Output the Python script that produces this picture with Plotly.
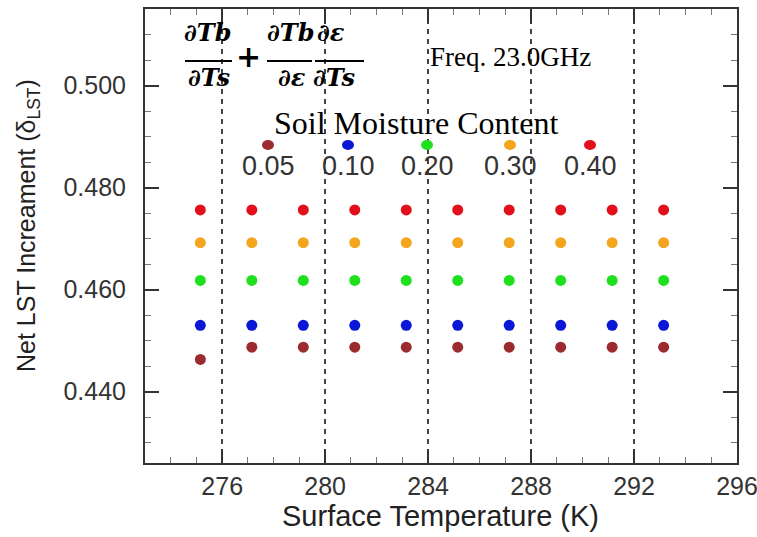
import plotly.graph_objects as go

# ---------------- data ----------------
temps = [275.15, 277.15, 279.15, 281.15, 283.15, 285.15, 287.15, 289.15, 291.15, 293.15]
sm_labels = ["0.05", "0.10", "0.20", "0.30", "0.40"]
sm_005 = [0.4463, 0.4487, 0.4487, 0.4487, 0.4487, 0.4487, 0.4487, 0.4487, 0.4487, 0.4487]
sm_010 = [0.4530, 0.4530, 0.4530, 0.4530, 0.4530, 0.4530, 0.4530, 0.4530, 0.4530, 0.4530]
sm_020 = [0.4618, 0.4618, 0.4618, 0.4618, 0.4618, 0.4618, 0.4618, 0.4618, 0.4618, 0.4618]
sm_030 = [0.4692, 0.4692, 0.4692, 0.4692, 0.4692, 0.4692, 0.4692, 0.4692, 0.4692, 0.4692]
sm_040 = [0.4756, 0.4756, 0.4756, 0.4756, 0.4756, 0.4756, 0.4756, 0.4756, 0.4756, 0.4756]
series = [sm_005, sm_010, sm_020, sm_030, sm_040]
colors = ["#9b2b2e", "#0a17d6", "#1fe01f", "#f2a51d", "#e3101b"]

# ---------------- layout geometry (pixels) ----------------
W, H = 757, 537
L, R, T, B = 145, 737, 9, 463


def px(x):
    return (x - L) / (R - L)


def py(y):
    return (B - y) / (B - T)


fig = go.Figure()
for vals, col, lab in zip(series, colors, sm_labels):
    fig.add_trace(go.Scatter(
        x=temps, y=vals, mode="markers", name=lab, showlegend=False,
        marker=dict(color=col, size=11, line=dict(width=0)),
    ))

axis_col = "#333333"
tick_font = dict(family="Liberation Sans, Arial", size=25, color="#333333")

fig.update_xaxes(
    range=[273, 296], tick0=276, dtick=4,
    showline=True, linewidth=2, linecolor=axis_col, mirror="allticks",
    ticks="inside", ticklen=14, tickwidth=2, tickcolor=axis_col,
    showgrid=True, gridcolor="#444444", gridwidth=2, griddash="5px,5px",
    zeroline=False, tickfont=tick_font, ticklabelstandoff=0, ticklabeloverflow="allow",
    minor=dict(dtick=1, ticks="inside", ticklen=6, tickwidth=1, tickcolor="#777777", showgrid=False),
)
fig.update_yaxes(
    range=[0.426, 0.515], tick0=0.44, dtick=0.02, tickformat=".3f",
    showline=True, linewidth=2, linecolor=axis_col, mirror="allticks",
    ticks="inside", ticklen=14, tickwidth=2, tickcolor=axis_col,
    showgrid=False, zeroline=False, tickfont=tick_font, ticklabelstandoff=12,
    ticklabeloverflow="allow",
    minor=dict(dtick=0.005, ticks="inside", ticklen=6, tickwidth=1, tickcolor="#777777", showgrid=False),
)

ann = []
shapes = []


def text(x, y, s, size, family, color="#000000", angle=0, xanchor="center", yanchor="middle"):
    ann.append(dict(x=px(x), y=py(y), xref="paper", yref="paper", text=s, showarrow=False,
                    font=dict(size=size, family=family, color=color), textangle=angle,
                    xanchor=xanchor, yanchor=yanchor))


# axis titles
text(440, 516, "Surface Temperature (K)", 29, "Liberation Sans, Arial", "#222222")
text(28, 226, "Net LST Increament (δ<sub>LST</sub>)", 25, "Liberation Sans, Arial", "#222222", angle=-90)

# formula
mf = "DejaVu Serif"
text(207, 33, "<b><i>∂Tb</i></b>", 24, mf)
text(209, 77, "<b><i>∂Ts</i></b>", 24, mf)
text(248, 56, "<b>+</b>", 30, mf)
text(290, 33, "<b><i>∂Tb</i></b>", 24, mf)
text(331, 33, "<b><i>∂ε</i></b>", 24, mf)
text(292, 77, "<b><i>∂ε</i></b>", 24, mf)
text(334, 77, "<b><i>∂Ts</i></b>", 24, mf)
for x0, x1 in [(185, 232), (267, 312), (315, 364)]:
    shapes.append(dict(type="line", xref="paper", yref="paper", x0=px(x0), x1=px(x1),
                       y0=py(61), y1=py(61), line=dict(color="#000000", width=2)))

text(510, 57, "Freq. 23.0GHz", 27, "Liberation Serif, Times New Roman")
text(416, 123, "Soil Moisture Content", 32, "Liberation Serif, Times New Roman")

# custom legend row
leg_x = [268, 348, 427, 510, 590]
for lx, col, lab in zip(leg_x, colors, sm_labels):
    shapes.append(dict(type="circle", xref="paper", yref="paper", xsizemode="pixel", ysizemode="pixel",
                       xanchor=px(lx), yanchor=py(145), x0=-6, x1=6, y0=-5, y1=5,
                       fillcolor=col, line=dict(width=0)))
    text(lx, 166, lab, 27, "Liberation Sans, Arial", "#333333")

fig.update_layout(
    width=W, height=H,
    margin=dict(l=L, r=W - R, t=T, b=H - B, autoexpand=False),
    paper_bgcolor="white", plot_bgcolor="white",
    annotations=ann, shapes=shapes,
)

fig.write_html(
    "out.html",
    config={"displayModeBar": False},
    post_script="document.body.style.margin='0';document.body.style.overflow='hidden';",
)
